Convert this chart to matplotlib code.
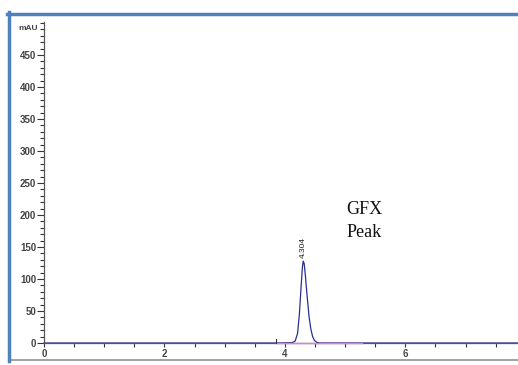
import matplotlib
matplotlib.use("Agg")
import matplotlib.pyplot as plt
from matplotlib.ticker import MultipleLocator, FixedLocator
from matplotlib.lines import Line2D

# Data
time_min = [0.0, 1.0, 2.0, 3.0, 3.86, 4.12, 4.17, 4.21, 4.24, 4.27, 4.29, 4.304,
            4.32, 4.34, 4.37, 4.40, 4.43, 4.46, 4.49, 4.53, 4.58, 5.0, 6.0, 7.0, 7.9]
signal_mau = [0.0, 0.0, 0.0, 0.0, 0.0, 0.5, 3.0, 15.0, 45.0, 90.0, 118.0, 128.0,
              124.0, 105.0, 72.0, 42.0, 22.0, 10.0, 4.0, 1.0, 0.0, 0.0, 0.0, 0.0, 0.0]
peak_rt = 4.304
peak_label = "4.304"
baseline_start, baseline_end = 3.86, 5.28
annotation = ["GFX", "Peak"]
y_label = "mAU"
x_major = [0, 2, 4, 6]

fig = plt.figure(figsize=(5.18, 3.65), dpi=100)
ax = fig.add_axes([44/518, (365-343)/365, 1 - 44/518, (343-22)/365])
ax.set_xlim(0, 7.87)
ax.set_ylim(0, 501.5)

ax.plot(time_min, signal_mau, color="#2A2F8F", lw=0.9, clip_on=False, zorder=3)
ax.plot([baseline_start, baseline_end], [0, 0], color="#E07BD6", lw=1.0, zorder=4, clip_on=False)
ax.plot([baseline_start, baseline_start], [0, 6], color="#333333", lw=0.8, zorder=4, clip_on=False)

ax.text(peak_rt, 133, peak_label, rotation=90, ha="center", va="bottom",
        fontsize=6, family="Liberation Sans", color="#222222")
ax.text(5.32, 208, annotation[0], ha="center", va="center", fontsize=13,
        family="Liberation Serif", color="#111111")
ax.text(5.32, 172, annotation[1], ha="center", va="center", fontsize=13,
        family="Liberation Serif", color="#111111")

for s in ["top", "right"]:
    ax.spines[s].set_visible(False)
ax.spines["left"].set_color("#555555")
ax.spines["left"].set_linewidth(0.9)
ax.spines["bottom"].set_color("#8A8A8A")
ax.spines["bottom"].set_linewidth(1.0)

ax.yaxis.set_major_locator(FixedLocator([0, 50, 100, 150, 200, 250, 300, 350, 400, 450]))
ax.yaxis.set_minor_locator(MultipleLocator(10))
ax.xaxis.set_major_locator(FixedLocator(x_major))
ax.xaxis.set_minor_locator(MultipleLocator(0.5))
ax.tick_params(axis="y", which="major", length=5, width=0.8, color="#333333",
               labelsize=7, labelcolor="#444444", pad=0.5)
ax.tick_params(axis="y", which="minor", length=3, width=0.8, color="#333333")
ax.tick_params(axis="x", which="both", length=3, width=0.8, color="#333333",
               labelsize=7, labelcolor="#444444", pad=1.5)
for lab in ax.get_xticklabels() + ax.get_yticklabels():
    lab.set_family("Liberation Sans")
    lab.set_fontweight("bold")

ax.text(-0.012, 492, y_label, transform=ax.get_yaxis_transform(), ha="right", va="center",
        fontsize=6, family="Liberation Sans", fontweight="bold", color="#444444")

# frame lines of the figure
fig.add_artist(Line2D([10/518, 1], [1 - 360/365]*2, color="#9A9A9A", lw=1.3))
fig.add_artist(Line2D([7/518, 1], [1 - 13.5/365]*2, color="#4F81BD", lw=2.5))
fig.add_artist(Line2D([8.5/518]*2, [1 - 12/365, 1 - 361/365], color="#4F81BD", lw=2.5))

fig.savefig("out.png", dpi=100)
